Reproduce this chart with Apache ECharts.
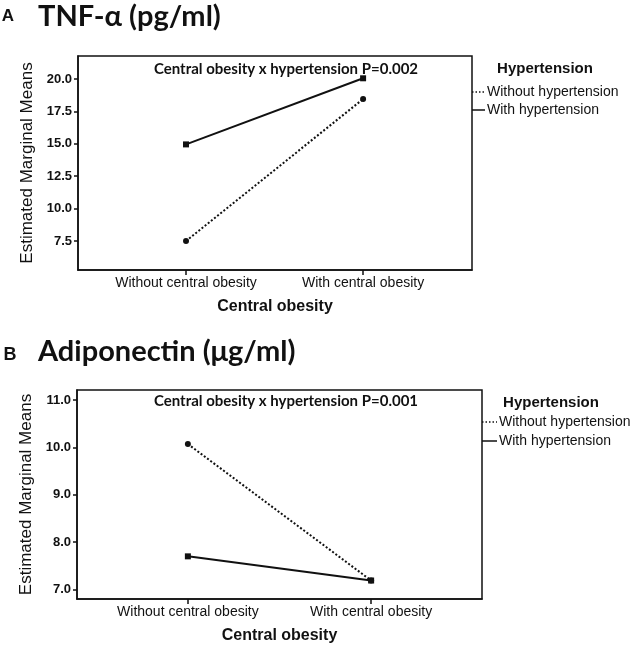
<!DOCTYPE html>
<html>
<head>
<meta charset="utf-8">
<script src="https://cdn.jsdelivr.net/npm/echarts@6/dist/echarts.min.js"></script>
<style>
  html, body { margin: 0; padding: 0; background: #fff; }
  #chart { width: 630px; height: 645px; }
</style>
</head>
<body>
<div id="chart"></div>
<script>
// categories on the x axis (both panels)
const categories = ['Without central obesity', 'With central obesity'];
const seriesNames = ['Without hypertension', 'With hypertension'];

// panel A: TNF-alpha
const tnfWithout = [7.5, 18.45];
const tnfWith = [14.95, 20.05];
const tnfTicks = [7.5, 10.0, 12.5, 15.0, 17.5, 20.0];

// panel B: adiponectin
const adipoWithout = [10.07, 7.19];
const adipoWith = [7.7, 7.19];
const adipoTicks = [7.0, 8.0, 9.0, 10.0, 11.0];

const ink = '#111';
const arial = 'Liberation Sans';

const toPoints = arr => arr.map((v, i) => [i, v]);

function xAxisFor(gridIndex, min, max) {
    return {
        gridIndex: gridIndex,
        type: 'value',
        min: min,
        max: max,
        name: 'Central obesity',
        nameLocation: 'middle',
        nameGap: 29,
        nameTextStyle: { fontFamily: arial, fontWeight: 'bold', fontSize: 16, color: ink },
        axisLine: { show: true, onZero: false, lineStyle: { color: ink, width: 1.5 } },
        axisTick: { show: true, length: 5, customValues: [0, 1], lineStyle: { color: ink, width: 1.5 } },
        axisLabel: {
            customValues: [0, 1],
            margin: 6,
            fontFamily: arial,
            fontSize: 14,
            color: ink,
            formatter: v => categories[Math.round(v)]
        },
        splitLine: { show: false }
    };
}

function yAxisFor(gridIndex, min, max, ticks) {
    return {
        gridIndex: gridIndex,
        type: 'value',
        min: min,
        max: max,
        name: 'Estimated Marginal Means',
        nameLocation: 'middle',
        nameGap: 40,
        nameTextStyle: { fontFamily: arial, fontSize: 17, color: ink },
        axisLine: { show: true, onZero: false, lineStyle: { color: ink, width: 1.5 } },
        axisTick: { show: true, length: 4, customValues: ticks, lineStyle: { color: ink, width: 1.5 } },
        axisLabel: {
            customValues: ticks,
            margin: 6,
            fontFamily: arial,
            fontWeight: 'bold',
            fontSize: 13,
            color: ink,
            formatter: v => v.toFixed(1)
        },
        splitLine: { show: false }
    };
}

function lineSeries(name, idx, data, dotted) {
    return {
        name: name,
        type: 'line',
        xAxisIndex: idx,
        yAxisIndex: idx,
        data: toPoints(data),
        symbol: dotted ? 'circle' : 'rect',
        symbolSize: 6,
        itemStyle: { color: ink },
        lineStyle: { color: ink, width: 2, type: dotted ? [2, 2] : 'solid' },
        silent: true,
        z: dotted ? 3 : 4
    };
}

// legend block drawn beside each panel
function legendBlock(titleX, titleY, lineX0, lineX1, textX, y1, y2) {
    return [
        { type: 'text', x: titleX, y: titleY, style: { text: 'Hypertension', font: 'bold 15px "Liberation Sans"', fill: ink, textAlign: 'center', textVerticalAlign: 'middle' } },
        { type: 'line', shape: { x1: lineX0, y1: y1, x2: lineX1, y2: y1 }, style: { stroke: ink, lineWidth: 1.5, lineDash: [1.5, 2] } },
        { type: 'text', x: textX, y: y1, style: { text: seriesNames[0], font: '14px "Liberation Sans"', fill: ink, textVerticalAlign: 'middle' } },
        { type: 'line', shape: { x1: lineX0, y1: y2, x2: lineX1, y2: y2 }, style: { stroke: ink, lineWidth: 1.5 } },
        { type: 'text', x: textX, y: y2, style: { text: seriesNames[1], font: '14px "Liberation Sans"', fill: ink, textVerticalAlign: 'middle' } }
    ];
}

const chart = echarts.init(document.getElementById('chart'), null, { renderer: 'canvas' });

chart.setOption({
    backgroundColor: '#fff',
    animation: false,
    grid: [
        { left: 78, top: 56, width: 394, height: 214, show: true, borderColor: ink, borderWidth: 1.5 },
        { left: 77, top: 390, width: 405, height: 211, show: true, borderColor: ink, borderWidth: 1.5 }
    ],
    xAxis: [
        xAxisFor(0, -0.61, 1.615),
        xAxisFor(1, -0.605, 1.605)
    ],
    yAxis: [
        yAxisFor(0, 5.26, 21.77, tnfTicks),
        yAxisFor(1, 6.8, 11.21, adipoTicks)
    ],
    series: [
        lineSeries(seriesNames[0], 0, tnfWithout, true),
        lineSeries(seriesNames[1], 0, tnfWith, false),
        lineSeries(seriesNames[0], 1, adipoWithout, true),
        lineSeries(seriesNames[1], 1, adipoWith, false)
    ],
    graphic: [
        // panel letters and titles
        { type: 'text', x: 8, y: 16, style: { text: 'A', font: 'bold 17px "Liberation Sans"', fill: ink, textAlign: 'center', textVerticalAlign: 'middle' } },
        { type: 'text', x: 38, y: 17, style: { text: 'TNF-α (pg/ml)', font: 'bold 29px Lato', fill: ink, textVerticalAlign: 'middle' } },
        { type: 'text', x: 10, y: 355, style: { text: 'B', font: 'bold 18px "Liberation Sans"', fill: ink, textAlign: 'center', textVerticalAlign: 'middle' } },
        { type: 'text', x: 38, y: 352, style: { text: 'Adiponectin (μg/ml)', font: 'bold 29px Lato', fill: ink, textVerticalAlign: 'middle' } },
        // interaction annotations
        { type: 'text', x: 286, y: 69, style: { text: 'Central obesity x hypertension P=0.002', font: 'bold 15px Lato', fill: ink, textAlign: 'center', textVerticalAlign: 'middle' } },
        { type: 'text', x: 286, y: 401, style: { text: 'Central obesity x hypertension P=0.001', font: 'bold 15px Lato', fill: ink, textAlign: 'center', textVerticalAlign: 'middle' } },
        ...legendBlock(545, 69, 472, 485, 487, 92, 110),
        ...legendBlock(551, 403, 482, 497, 499, 422, 441)
    ]
});
</script>
</body>
</html>
